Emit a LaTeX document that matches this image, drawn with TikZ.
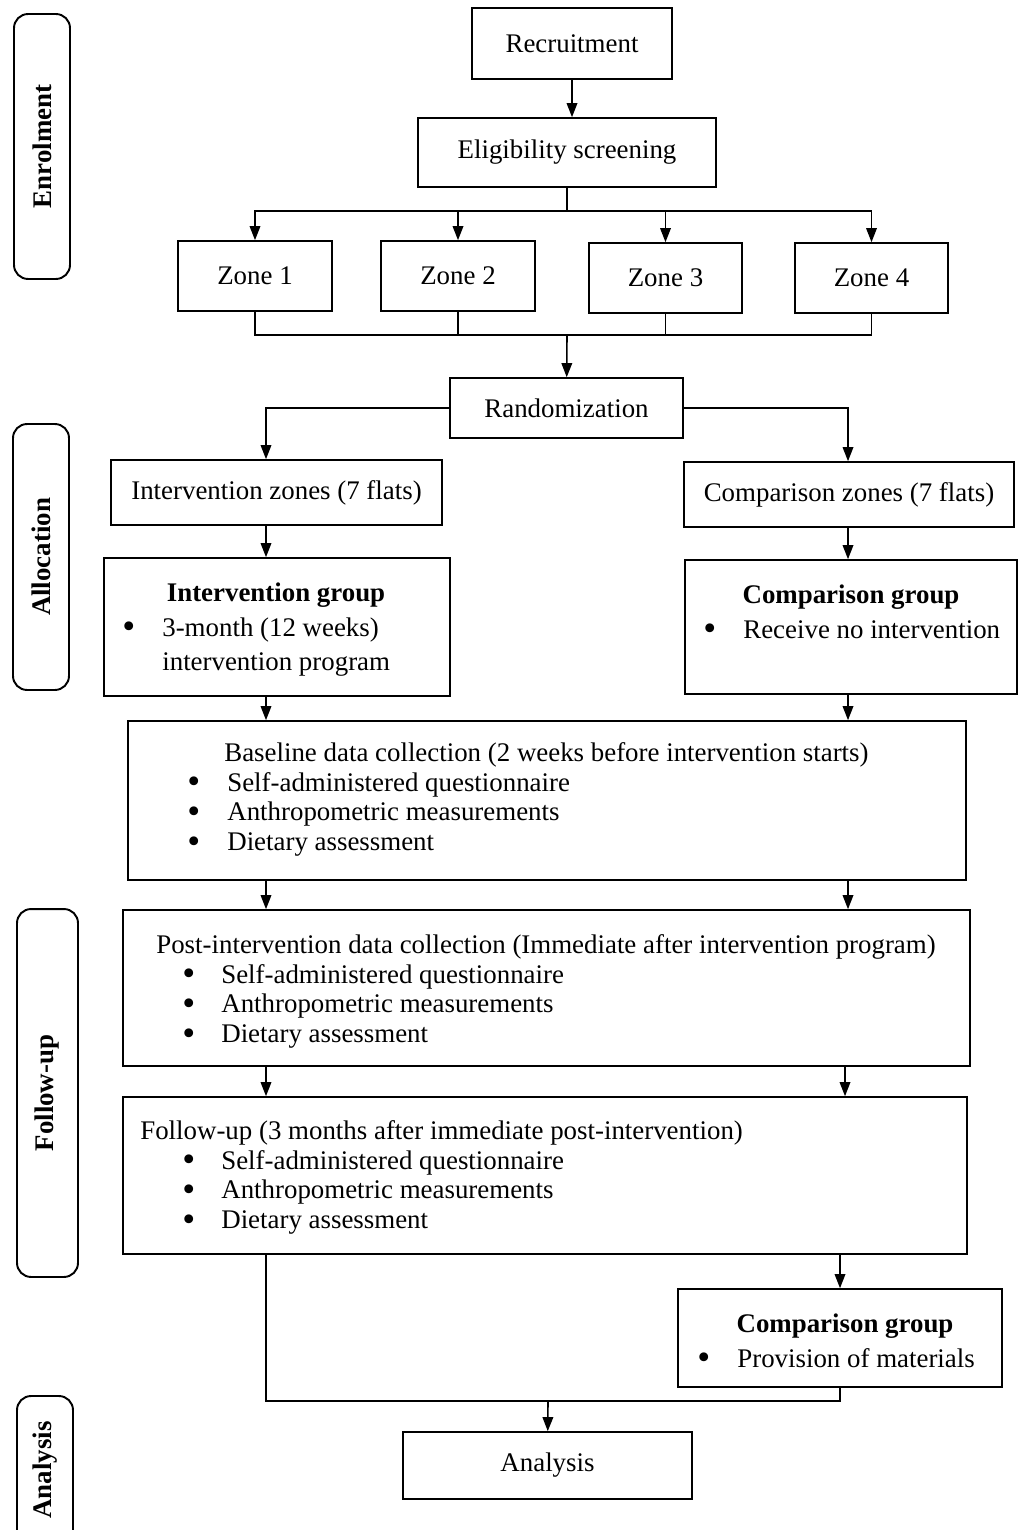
\documentclass[tikz,border=0pt]{standalone}
\usepackage{fontspec}
\setmainfont{Liberation Serif}
\usepackage{tikz}
\usetikzlibrary{positioning, arrows.meta}

\newcommand{\boxfont}{\fontsize{15.3}{17}\selectfont}
\newcommand{\groupfont}{\fontsize{15.3}{19.5}\selectfont}
\newcommand{\bul}{\smash{\raisebox{-1.5pt}{\fontsize{21}{17}\selectfont\textbullet}}}

\tikzset{
  box/.style={draw, line width=0.9pt, font=\boxfont, align=center, inner sep=2pt},
  phase/.style={draw, line width=1.1pt, rounded corners=8pt, rotate=90, font=\boxfont\bfseries},
  txt/.style={font=\boxfont, inner sep=0pt},
  link/.style={line width=0.9pt},
  arr/.style={link, -{Triangle[length=8pt,width=6pt]}}
}

\begin{document}
\begin{tikzpicture}[x=0.02cm, y=-0.02cm]
    \useasboundingbox (0,0) rectangle (1024,1530);
    \clip (0,0) rectangle (1024,1530);

    % Phase labels on the left
    \node[phase, minimum width=5.3cm, minimum height=1.12cm] (enrolment) at (42,146.5) {Enrolment};
    \node[phase, minimum width=5.32cm, minimum height=1.12cm] (allocation) at (41,557) {Allocation};
    \node[phase, minimum width=7.36cm, minimum height=1.22cm] (followup) at (47.5,1093) {Follow-up};
    \node[phase, minimum width=2.96cm, minimum height=1.12cm] (analysisPhase) at (45,1470) {Analysis};

    % Enrolment
    \node[box, minimum width=4cm, minimum height=1.42cm] (recruit) at (572,43.5) {Recruitment};
    \node[box, minimum width=5.96cm, minimum height=1.38cm] (elig) at (567,152.5) {Eligibility screening};

    \node[box, minimum width=3.08cm, minimum height=1.4cm] (zone1) at (255,276) {Zone 1};
    \node[box, minimum width=3.08cm, minimum height=1.4cm] (zone2) at (458,276) {Zone 2};
    \node[box, minimum width=3.06cm, minimum height=1.4cm] (zone3) at (665.5,278) {Zone 3};
    \node[box, minimum width=3.06cm, minimum height=1.4cm] (zone4) at (871.5,278) {Zone 4};

    \coordinate (split1) at (567,211);
    \coordinate (merge1) at (567,335);

    % Allocation
    \node[box, minimum width=4.66cm, minimum height=1.2cm] (rand) at (566.5,408) {Randomization};
    \node[box, minimum width=6.62cm, minimum height=1.3cm] (intZones) at (276.5,492.5) {Intervention zones (7 flats)};
    \node[box, minimum width=6.6cm, minimum height=1.3cm] (compZones) at (849,494.5) {Comparison zones (7 flats)};

    \node[box, minimum width=6.92cm, minimum height=2.76cm] (intGroup) at (277,627) {};
    \node[txt, anchor=base] (intGroupTitle) at (276,601) {\textbf{Intervention group}};
    \node[txt, font=\groupfont, anchor=base west] (intGroupList) at (122,636)
      {\begin{tabular}[t]{@{}p{0.8cm}@{}l@{}}
        \bul & 3-month (12 weeks)\\
             & intervention program
      \end{tabular}};

    \node[box, minimum width=6.64cm, minimum height=2.68cm] (compGroup) at (851,627) {};
    \node[txt, anchor=base] (compGroupTitle) at (851,603) {\textbf{Comparison group}};
    \node[txt, font=\groupfont, anchor=base west] (compGroupList) at (703,638)
      {\begin{tabular}[t]{@{}p{0.8cm}@{}l@{}}
        \bul & Receive no intervention
      \end{tabular}};

    \coordinate (lx) at (266,0);
    \coordinate (rx) at (848,0);

    % Data collection
    \node[box, minimum width=16.76cm, minimum height=3.18cm] (baseline) at (547,800.5) {};
    \node[txt, anchor=base west] (baselineHead) at (224,761)
      {Baseline data collection (2 weeks before intervention starts)};
    \node[txt, anchor=base west] (baselineList) at (187,791)
      {\begin{tabular}[t]{@{}p{0.8cm}@{}l@{}}
        \bul & Self-administered questionnaire\\
        \bul & Anthropometric measurements\\
        \bul & Dietary assessment
      \end{tabular}};

    \node[box, minimum width=16.94cm, minimum height=3.12cm] (post) at (546.5,988) {};
    \node[txt, anchor=base west] (postHead) at (156,953)
      {Post-intervention data collection (Immediate after intervention program)};
    \node[txt, anchor=base west] (postList) at (182,983)
      {\begin{tabular}[t]{@{}p{0.78cm}@{}l@{}}
        \bul & Self-administered questionnaire\\
        \bul & Anthropometric measurements\\
        \bul & Dietary assessment
      \end{tabular}};

    \node[box, minimum width=16.88cm, minimum height=3.14cm] (follow) at (545,1175.5) {};
    \node[txt, anchor=base west] (followHead) at (140,1139)
      {Follow-up (3 months after immediate post-intervention)};
    \node[txt, anchor=base west] (followList) at (182,1169)
      {\begin{tabular}[t]{@{}p{0.78cm}@{}l@{}}
        \bul & Self-administered questionnaire\\
        \bul & Anthropometric measurements\\
        \bul & Dietary assessment
      \end{tabular}};

    \node[box, minimum width=6.48cm, minimum height=1.96cm] (compMat) at (840,1338) {};
    \node[txt, anchor=base] (compMatTitle) at (845,1332) {\textbf{Comparison group}};
    \node[txt, font=\groupfont, anchor=base west] (compMatList) at (697,1367)
      {\begin{tabular}[t]{@{}p{0.8cm}@{}l@{}}
        \bul & Provision of materials
      \end{tabular}};

    \coordinate (merge2) at (548,1401);

    % Analysis
    \node[box, minimum width=5.78cm, minimum height=1.34cm] (analysis) at (547.5,1465.5) {Analysis};

    % Connectors
    \draw[arr] (recruit.south) -- (recruit.south |- elig.north);
    \draw[link] (elig.south) -- (split1);
    \foreach \z in {zone1, zone2, zone3, zone4} {
      \draw[arr] (split1) -| (\z.north);
      \draw[link] (\z.south) |- (merge1);
    }
    \draw[arr] (merge1) -- (rand);
    \draw[arr] (rand.west) -| (intZones.north -| lx);
    \draw[arr] (rand.east) -| (compZones.north -| rx);

    \draw[arr] (intZones.south -| lx) -- (intGroup.north -| lx);
    \draw[arr] (compZones.south -| rx) -- (compGroup.north -| rx);
    \draw[arr] (intGroup.south -| lx) -- (baseline.north -| lx);
    \draw[arr] (compGroup.south -| rx) -- (baseline.north -| rx);
    \draw[arr] (baseline.south -| lx) -- (post.north -| lx);
    \draw[arr] (baseline.south -| rx) -- (post.north -| rx);
    \draw[arr] (post.south -| lx) -- (follow.north -| lx);
    \draw[arr] (post.south -| 845,0) -- (follow.north -| 845,0);
    \draw[arr] (follow.south -| compMat) -- (compMat.north);

    \draw[link] (follow.south -| lx) |- (merge2) -| (compMat.south);
    \draw[arr] (merge2) -- (analysis);

\end{tikzpicture}
\end{document}
